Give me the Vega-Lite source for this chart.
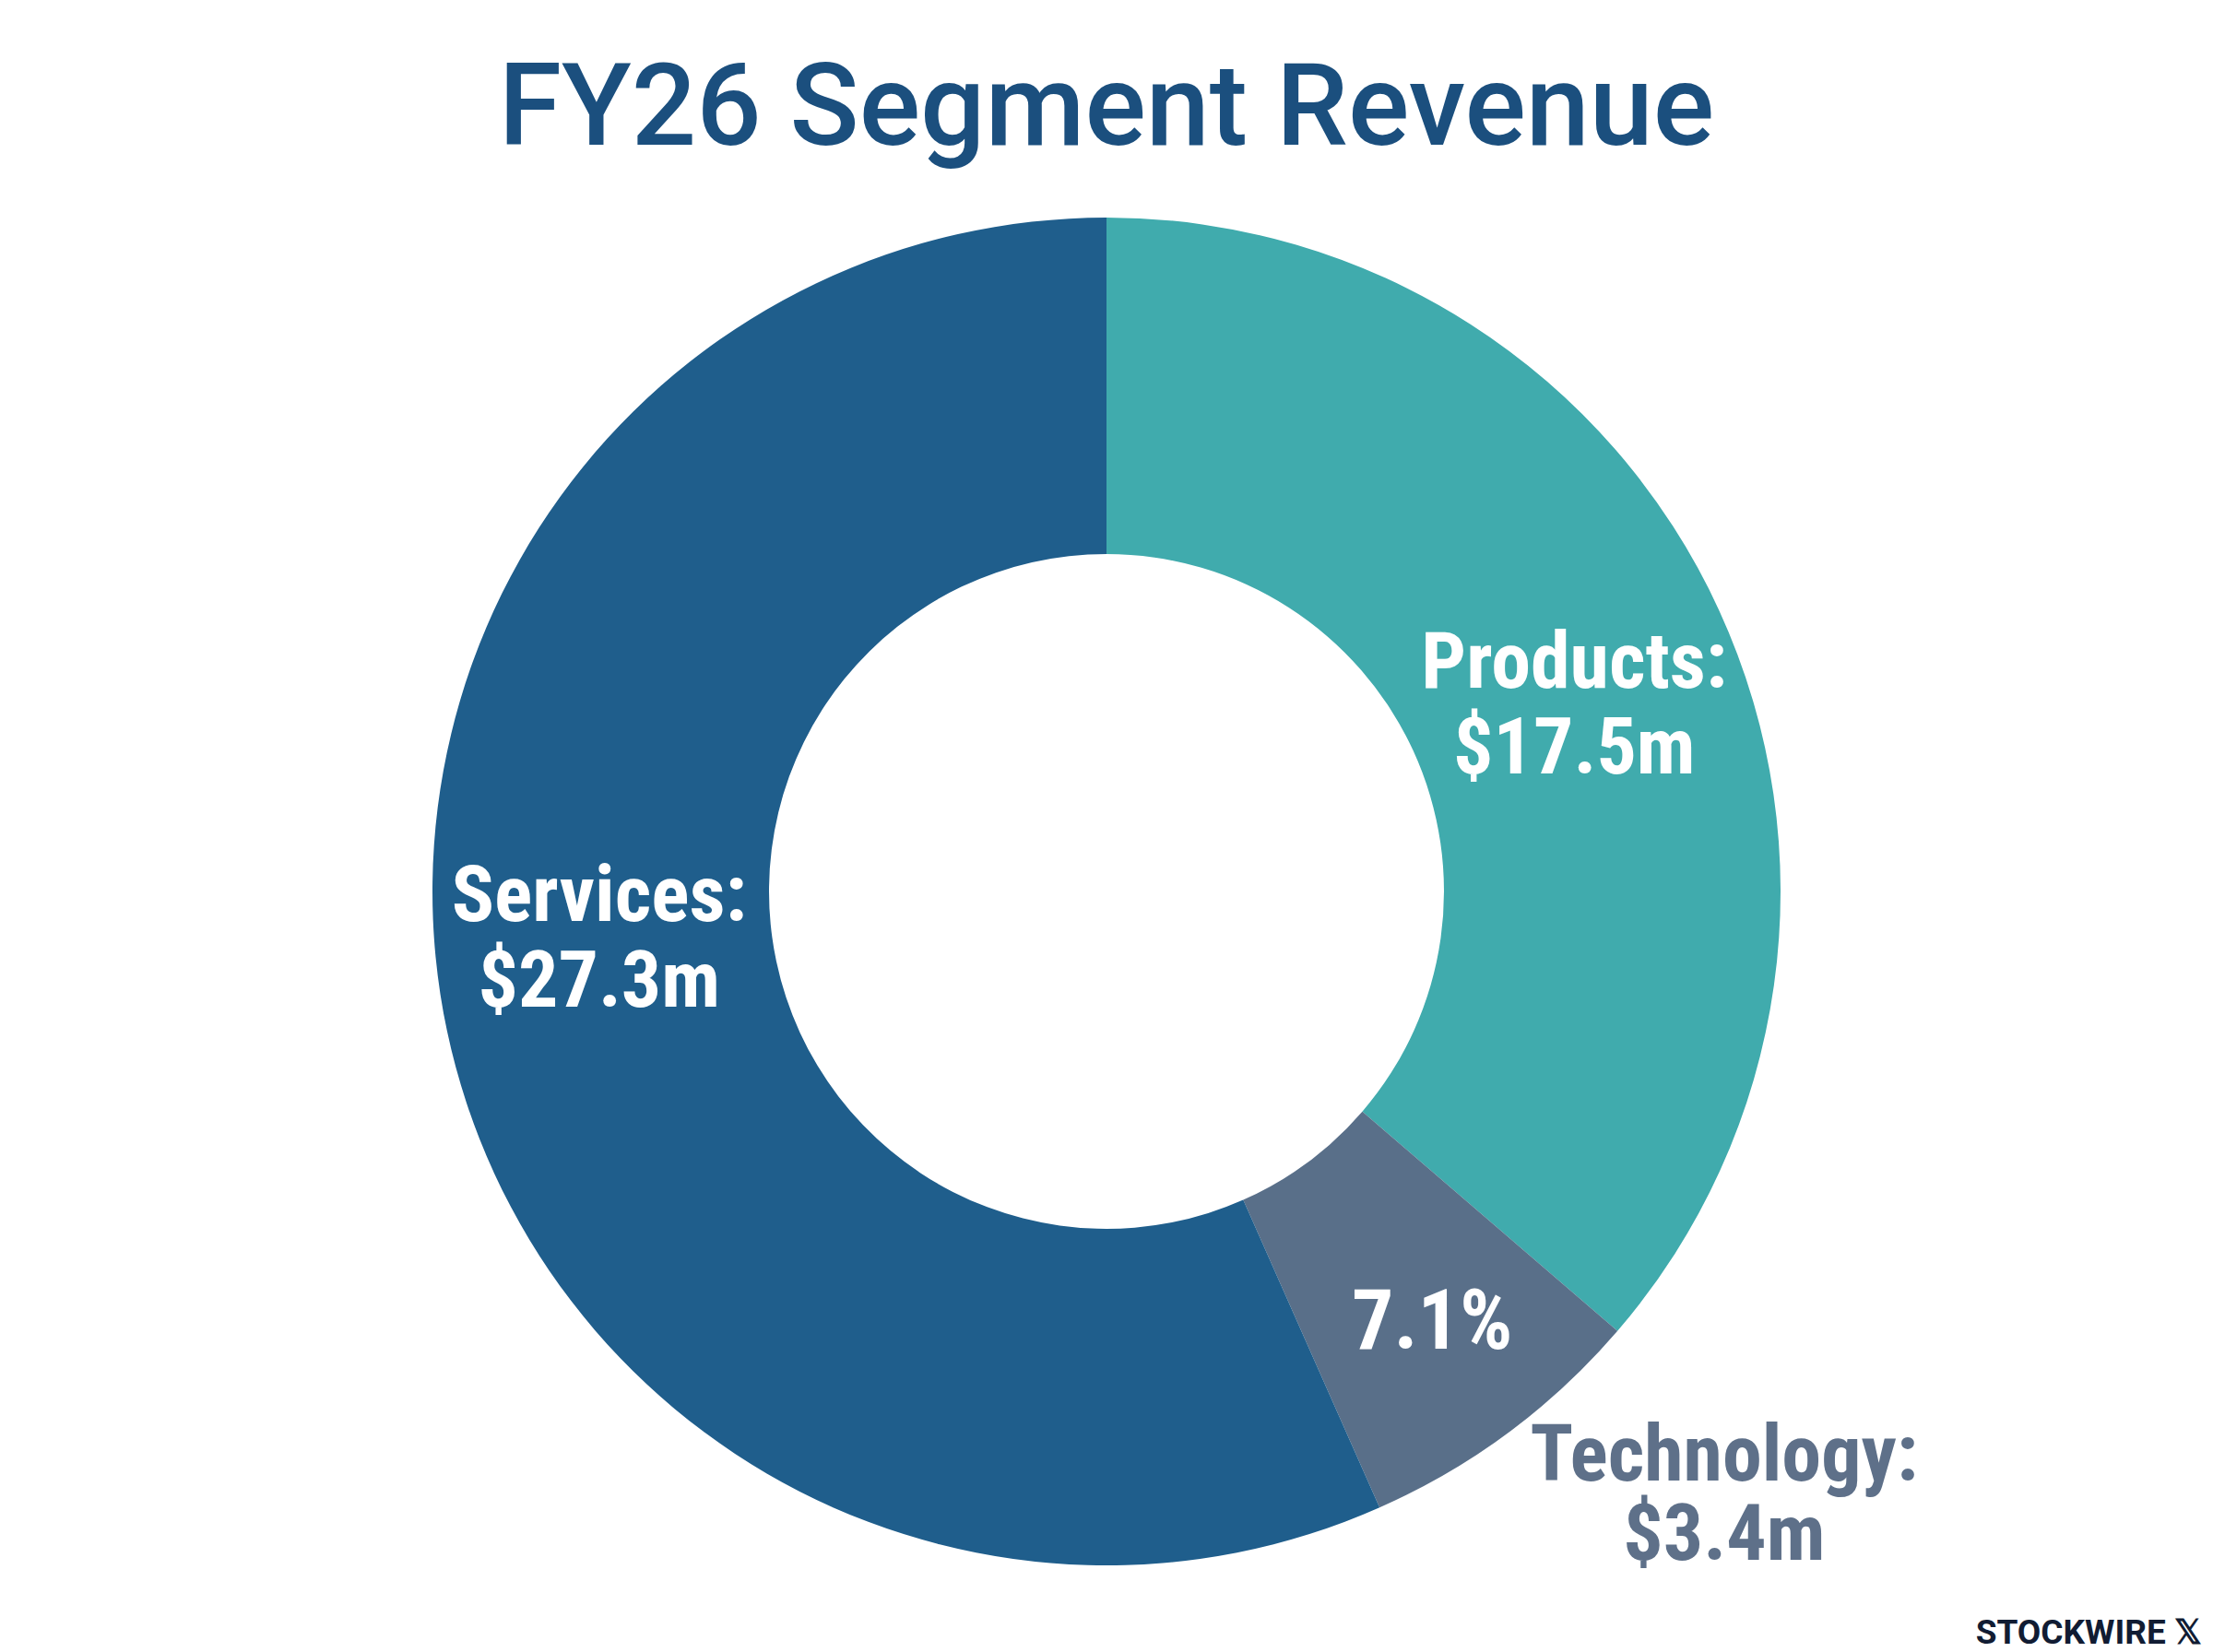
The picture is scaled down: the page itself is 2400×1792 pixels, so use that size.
{
  "$schema": "https://vega.github.io/schema/vega-lite/v6.json",
  "description": "FY26 segment revenue donut",
  "width": 2400,
  "height": 1450,
  "autosize": "none",
  "padding": {"top": 242, "left": 0, "right": 0, "bottom": 100},
  "background": "white",
  "config": {"view": {"stroke": null}},
  "title": {
    "text": "FY26 Segment Revenue",
    "font": "Roboto",
    "fontSize": 124,
    "fontWeight": 500,
    "color": "#1b4f7e",
    "anchor": "middle",
    "offset": 53
  },
  "data": {
    "values": [
      {"segment": "Products", "value": 17.5, "idx": 1, "label": "Products:\n$17.5m", "share": ""},
      {"segment": "Technology", "value": 3.4, "idx": 2, "label": "Technology:\n$3.4m", "share": "7.1%"},
      {"segment": "Services", "value": 27.3, "idx": 3, "label": "Services:\n$27.3m", "share": ""}
    ]
  },
  "encoding": {
    "theta": {"field": "value", "type": "quantitative", "stack": true},
    "order": {"field": "idx", "type": "quantitative"}
  },
  "layer": [
    {
      "mark": {"type": "arc", "outerRadius": 731, "innerRadius": 366},
      "encoding": {
        "color": {
          "field": "segment",
          "type": "nominal",
          "legend": null,
          "scale": {
            "domain": ["Products", "Technology", "Services"],
            "range": ["#40abad", "#596f89", "#1f5e8c"]
          }
        }
      }
    },
    {
      "mark": {
        "type": "text",
        "radius": 545,
        "dx": 12,
        "dy": -20,
        "lineBreak": "\n",
        "lineHeight": 93,
        "font": "Roboto Condensed, Liberation Sans Narrow, DejaVu Sans Condensed, Roboto",
        "fontSize": 86,
        "fontWeight": "bold",
        "color": "white"
      },
      "encoding": {
        "text": {"condition": {"test": "datum.segment === 'Products'", "field": "label"}, "value": null}
      }
    },
    {
      "mark": {
        "type": "text",
        "radius": 545,
        "dx": -17,
        "dy": -107,
        "lineBreak": "\n",
        "lineHeight": 93,
        "font": "Roboto Condensed, Liberation Sans Narrow, DejaVu Sans Condensed, Roboto",
        "fontSize": 86,
        "fontWeight": "bold",
        "color": "white"
      },
      "encoding": {
        "text": {"condition": {"test": "datum.segment === 'Services'", "field": "label"}, "value": null}
      }
    },
    {
      "mark": {
        "type": "text",
        "radius": 584,
        "dx": 5,
        "font": "Roboto Condensed, Liberation Sans Narrow, DejaVu Sans Condensed, Roboto",
        "fontSize": 90,
        "fontWeight": "bold",
        "color": "white"
      },
      "encoding": {
        "text": {"field": "share", "type": "nominal"}
      }
    },
    {
      "mark": {
        "type": "text",
        "radius": 545,
        "dx": 345,
        "dy": 175,
        "lineBreak": "\n",
        "lineHeight": 86,
        "font": "Roboto Condensed, Liberation Sans Narrow, DejaVu Sans Condensed, Roboto",
        "fontSize": 86,
        "fontWeight": "bold",
        "color": "#5e7089"
      },
      "encoding": {
        "text": {"condition": {"test": "datum.segment === 'Technology'", "field": "label"}, "value": null}
      }
    },
    {
      "data": {"values": [{"brand": "STOCKWIRE 𝕏"}]},
      "mark": {
        "type": "text",
        "x": "width",
        "y": "height",
        "dx": -12,
        "dy": 91,
        "align": "right",
        "baseline": "alphabetic",
        "font": "Roboto",
        "fontSize": 37,
        "fontWeight": "bold",
        "color": "#111c33"
      },
      "encoding": {
        "theta": null,
        "order": null,
        "text": {"field": "brand", "type": "nominal"}
      }
    }
  ]
}
